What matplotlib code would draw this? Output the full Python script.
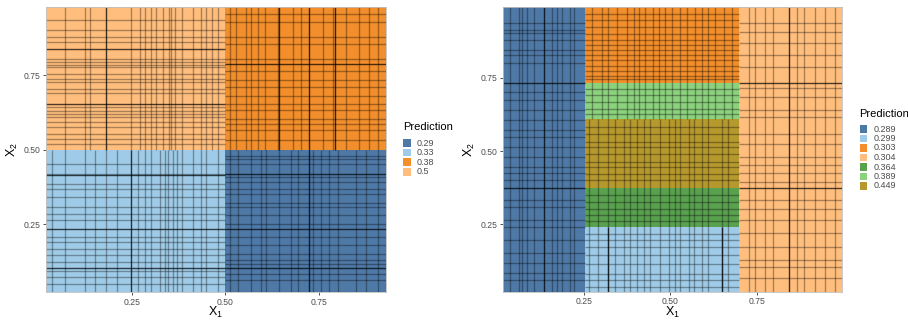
import matplotlib
matplotlib.use("Agg")
import matplotlib.pyplot as plt
from matplotlib.patches import Rectangle

plt.rcParams["font.family"] = ["Liberation Sans", "DejaVu Sans"]
plt.rcParams["mathtext.fontset"] = "custom"
plt.rcParams["mathtext.rm"] = "Liberation Sans"
plt.rcParams["mathtext.it"] = "Liberation Sans"

# ---------------- data ----------------
# Left panel: regions (x0, x1, y0, y1) and prediction values
left_regions = [(0.021, 0.50, 0.023, 0.50), (0.50, 0.927, 0.023, 0.50),
                (0.50, 0.927, 0.50, 0.979), (0.021, 0.50, 0.50, 0.979)]
left_preds = ["0.33", "0.29", "0.38", "0.5"]
left_levels = ["0.29", "0.33", "0.38", "0.5"]

# observation lines per region (left panel)
left_vx = [
    [0.039, 0.073, 0.126, 0.153, 0.183, 0.210, 0.268, 0.285, 0.303, 0.325, 0.339,
     0.347, 0.361, 0.370, 0.383, 0.414, 0.436, 0.449, 0.480],
    [0.511, 0.534, 0.569, 0.596, 0.609, 0.644, 0.676, 0.693, 0.733, 0.755, 0.777,
     0.800, 0.848, 0.875, 0.906],
    [0.511, 0.529, 0.556, 0.569, 0.587, 0.605, 0.640, 0.680, 0.702, 0.760, 0.786,
     0.822, 0.857, 0.884, 0.906],
    [0.073, 0.126, 0.139, 0.248, 0.272, 0.285, 0.301, 0.316, 0.334, 0.349, 0.354,
     0.365, 0.383, 0.414, 0.436, 0.449, 0.463, 0.480],
]
left_vx_dark = [[0.248], [0.724], [0.644, 0.724, 0.791], [0.182]]
left_hy = [
    [0.453, 0.419, 0.386, 0.369, 0.341, 0.308, 0.285, 0.263, 0.207, 0.190, 0.168,
     0.146, 0.123, 0.095, 0.073, 0.050],
    [0.480, 0.470, 0.453, 0.408, 0.392, 0.369, 0.352, 0.320, 0.308, 0.280, 0.252,
     0.207, 0.179, 0.151, 0.130, 0.117, 0.084, 0.062],
    [0.956, 0.929, 0.878, 0.856, 0.805, 0.766, 0.733, 0.710, 0.682, 0.654, 0.632,
     0.604, 0.587, 0.565, 0.532],
    [0.934, 0.903, 0.878, 0.861, 0.805, 0.794, 0.786, 0.777, 0.755, 0.738, 0.727,
     0.705, 0.690, 0.643, 0.629, 0.621, 0.610, 0.593, 0.576, 0.554, 0.537, 0.520],
]
left_hy_dark = [[0.416, 0.236, 0.102], [0.418, 0.236, 0.102], [0.789], [0.839, 0.654]]

# Right panel
right_regions = [(0.015, 0.253, 0.02, 0.992), (0.253, 0.698, 0.732, 0.992),
                 (0.253, 0.698, 0.609, 0.732), (0.253, 0.698, 0.375, 0.609),
                 (0.253, 0.698, 0.242, 0.375), (0.253, 0.698, 0.02, 0.242),
                 (0.698, 0.997, 0.02, 0.992)]
right_preds = ["0.289", "0.303", "0.389", "0.449", "0.364", "0.299", "0.304"]
right_levels = ["0.289", "0.299", "0.303", "0.304", "0.364", "0.389", "0.449"]

mid_vx_top = [0.273, 0.302, 0.321, 0.345, 0.374, 0.394, 0.408, 0.427, 0.451, 0.466,
              0.485, 0.504, 0.528, 0.548, 0.572, 0.591, 0.610, 0.630, 0.654, 0.678]
mid_vx_bot = [0.264, 0.292, 0.321, 0.341, 0.365, 0.384, 0.403, 0.423, 0.442, 0.471,
              0.495, 0.514, 0.528, 0.553, 0.567, 0.591, 0.610, 0.649, 0.668]
right_vx = [
    [0.037, 0.061, 0.071, 0.085, 0.105, 0.158, 0.172, 0.187, 0.210, 0.220],
    mid_vx_top, mid_vx_top, mid_vx_bot, mid_vx_bot, mid_vx_bot,
    [0.726, 0.745, 0.774, 0.798, 0.866, 0.885, 0.918, 0.947, 0.976],
]
right_vx_dark = [[0.134], [], [], [], [], [0.321, 0.649], [0.842]]
right_hy = [
    [0.936, 0.913, 0.902, 0.879, 0.845, 0.828, 0.800, 0.702, 0.674, 0.640, 0.606,
     0.572, 0.549, 0.515, 0.481, 0.446, 0.424, 0.401, 0.333, 0.310, 0.265, 0.242,
     0.196, 0.151, 0.117, 0.083, 0.059],
    [0.969, 0.946, 0.923, 0.900, 0.878, 0.861, 0.844, 0.827, 0.810, 0.792, 0.775,
     0.758, 0.747],
    [0.713, 0.690, 0.667, 0.644, 0.627],
    [0.582, 0.559, 0.531, 0.514, 0.491, 0.462, 0.445, 0.423, 0.400],
    [0.349, 0.326, 0.303, 0.281, 0.263],
    [0.218, 0.195, 0.172, 0.144, 0.115, 0.081, 0.059, 0.036],
    [0.936, 0.907, 0.868, 0.828, 0.788, 0.714, 0.685, 0.640, 0.617, 0.560, 0.526,
     0.481, 0.452, 0.424, 0.396, 0.333, 0.304, 0.265, 0.219, 0.174, 0.128, 0.105,
     0.066],
]
right_hy_dark = [[0.731, 0.373], [], [], [], [], [], [0.731, 0.375]]

colors = {"0.29": "#4E79A7", "0.33": "#A0CBE8", "0.38": "#F28E2B", "0.5": "#FFBE7D",
          "0.289": "#4E79A7", "0.299": "#A0CBE8", "0.303": "#F28E2B", "0.304": "#FFBE7D",
          "0.364": "#59A14F", "0.389": "#8CD17D", "0.449": "#B6992D"}

# ---------------- drawing ----------------
W, H = 908, 320
fig = plt.figure(figsize=(W / 100, H / 100), dpi=100)
ax1 = fig.add_axes([0.0503, 0.0875, 0.3744, 0.8906])
ax2 = fig.add_axes([0.5536, 0.0884, 0.3740, 0.8897])


def draw_panel(ax, regions, preds, vx, vxd, hy, hyd, xlim, ylim):
    for (x0, x1, y0, y1), p in zip(regions, preds):
        ax.add_patch(Rectangle((x0, y0), x1 - x0, y1 - y0, facecolor=colors[p],
                               edgecolor="none", zorder=1))
    for (x0, x1, y0, y1), xs, xsd, ys, ysd in zip(regions, vx, vxd, hy, hyd):
        if xs:
            ax.vlines(xs, y0, y1, colors="black", alpha=0.33, lw=1.0, zorder=2)
        if xsd:
            ax.vlines(xsd, y0, y1, colors="black", alpha=0.75, lw=1.0, zorder=2)
        if ys:
            ax.hlines(ys, x0, x1, colors="black", alpha=0.33, lw=1.0, zorder=2)
        if ysd:
            ax.hlines(ysd, x0, x1, colors="black", alpha=0.7, lw=1.0, zorder=2)
    ax.set_xlim(*xlim)
    ax.set_ylim(*ylim)
    ax.set_xticks([0.25, 0.50, 0.75])
    ax.set_yticks([0.25, 0.50, 0.75])
    ax.set_xticklabels(["0.25", "0.50", "0.75"])
    ax.set_yticklabels(["0.25", "0.50", "0.75"])
    ax.tick_params(labelsize=6.2, labelcolor="#4D4D4D", color="#333333",
                   length=2.5, width=0.6, pad=1.5)
    for s in ax.spines.values():
        s.set_color("#C0C0C0")
        s.set_linewidth(0.6)
    ax.set_xlabel("X$_1$", fontsize=9)
    ax.set_ylabel("X$_2$", fontsize=9)
    ax.xaxis.set_label_coords(0.5, -0.045)
    ax.yaxis.set_label_coords(-0.075, 0.5)


draw_panel(ax1, left_regions, left_preds, left_vx, left_vx_dark, left_hy, left_hy_dark,
           (0.021, 0.927), (0.023, 0.979))
draw_panel(ax2, right_regions, right_preds, right_vx, right_vx_dark, right_hy,
           right_hy_dark, (0.015, 0.997), (0.02, 0.992))


def add_legend(levels, x_px, title_y_px, first_y_px, step_px):
    fig.text(x_px / W, 1 - title_y_px / H, "Prediction", fontsize=8,
             ha="left", va="center", color="black")
    ks = 7.5
    for i, lev in enumerate(levels):
        cy = first_y_px + i * step_px
        fig.add_artist(Rectangle((x_px / W, 1 - (cy + ks / 2) / H), ks / W, ks / H,
                                 transform=fig.transFigure, facecolor=colors[lev],
                                 edgecolor="none"))
        fig.text((x_px + 14) / W, 1 - cy / H, lev, fontsize=6.5, ha="left",
                 va="center", color="#4D4D4D")


add_legend(left_levels, 403, 127.5, 143, 9.6)
add_legend(right_levels, 859.5, 114, 129, 9.5)

fig.savefig("out.png", dpi=100)
